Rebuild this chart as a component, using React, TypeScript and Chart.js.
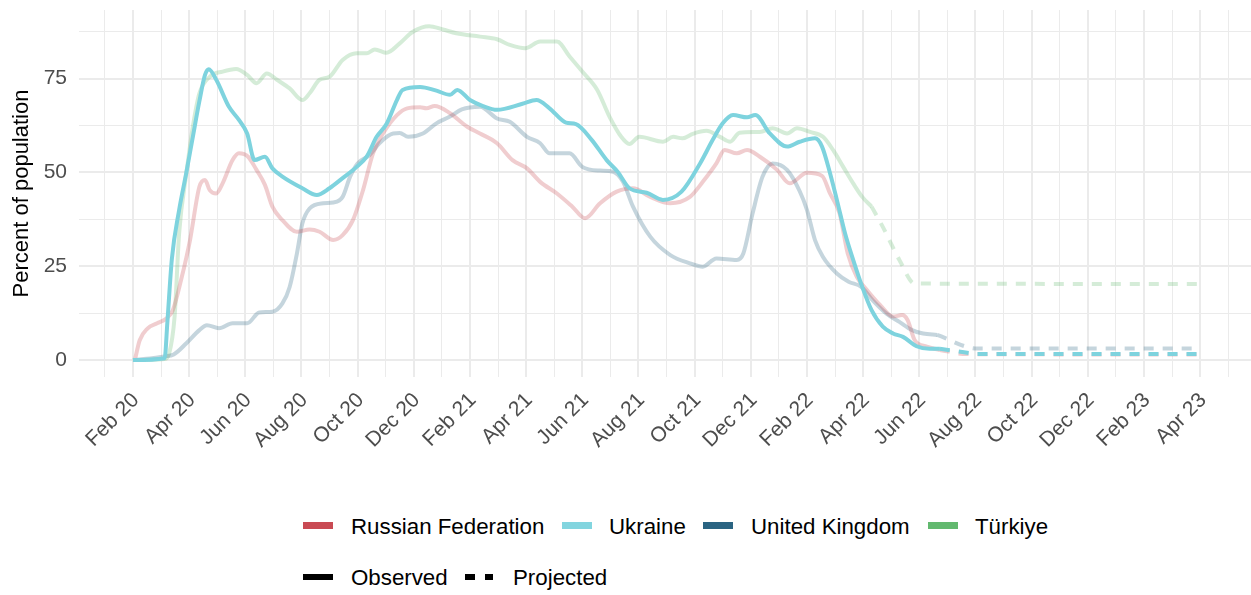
import React, { useEffect, useRef } from "react";
import { Chart, registerables } from "chart.js";

Chart.register(...registerables);

const FONT = '"Liberation Sans", Arial, Helvetica, sans-serif';

// ---------- data ----------
const xTickLabels = [
  "Feb 20", "Apr 20", "Jun 20", "Aug 20", "Oct 20", "Dec 20",
  "Feb 21", "Apr 21", "Jun 21", "Aug 21", "Oct 21", "Dec 21",
  "Feb 22", "Apr 22", "Jun 22", "Aug 22", "Oct 22", "Dec 22",
  "Feb 23", "Apr 23",
];
const yTickValues = [0, 25, 50, 75];

const countries = ["Russian Federation", "Ukraine", "United Kingdom", "Türkiye"];

const russiaObserved: [string, number][] = [
  ["2020-02-03", 0], ["2020-02-08", 5.3], ["2020-02-16", 8.4], ["2020-02-26", 9.8],
  ["2020-03-07", 11.1], ["2020-03-14", 13.3], ["2020-03-24", 22.2], ["2020-04-02", 32],
  ["2020-04-12", 46.2], ["2020-04-18", 48], ["2020-04-23", 45.3], ["2020-04-30", 44.4],
  ["2020-05-07", 47.1], ["2020-05-18", 53.3], ["2020-05-25", 55.1], ["2020-06-04", 54.2],
  ["2020-06-13", 50.7], ["2020-06-22", 46.7], ["2020-06-30", 40.9], ["2020-07-11", 37.3],
  ["2020-07-27", 34.2], ["2020-08-10", 34.8], ["2020-08-21", 34.2], ["2020-09-05", 32],
  ["2020-09-15", 33.3], ["2020-09-26", 37.3], ["2020-10-07", 45.3], ["2020-10-18", 55.1],
  ["2020-10-29", 60.4], ["2020-11-13", 65.3], ["2020-11-24", 67.1], ["2020-12-08", 67.4],
  ["2020-12-15", 67.1], ["2020-12-24", 67.7], ["2021-01-10", 65.8], ["2021-01-29", 62.2],
  ["2021-02-11", 60.4], ["2021-02-28", 57.8], ["2021-03-17", 53.3], ["2021-04-02", 51.1],
  ["2021-04-16", 47.5], ["2021-05-04", 44.4], ["2021-05-21", 40.9], ["2021-06-04", 37.8],
  ["2021-06-20", 41.8], ["2021-07-08", 44.9], ["2021-07-26", 45.8], ["2021-08-14", 43.5],
  ["2021-09-05", 41.8], ["2021-09-26", 43.5], ["2021-10-10", 47.5], ["2021-10-25", 52.4],
  ["2021-11-03", 56], ["2021-11-16", 55.1], ["2021-11-27", 56], ["2021-12-11", 54.2],
  ["2021-12-30", 50.7], ["2022-01-13", 47.1], ["2022-02-01", 49.9], ["2022-02-16", 49.1],
  ["2022-02-24", 44.4], ["2022-03-06", 39.1], ["2022-03-15", 28.4], ["2022-03-25", 22.2],
  ["2022-04-05", 18.7], ["2022-04-19", 14.7], ["2022-05-03", 11.6], ["2022-05-13", 12],
  ["2022-05-19", 10.7], ["2022-05-27", 5.3], ["2022-06-09", 3.6], ["2022-06-23", 2.7],
];
const russiaProjected: [string, number][] = [
  ["2022-06-23", 2.7], ["2022-07-22", 1.6], ["2023-04-01", 1.5],
];

const ukraineObserved: [string, number][] = [
  ["2020-02-01", 0], ["2020-03-05", 0.5], ["2020-03-08", 10], ["2020-03-13", 27],
  ["2020-03-21", 40], ["2020-03-29", 50], ["2020-04-05", 59.5], ["2020-04-12", 69],
  ["2020-04-18", 76], ["2020-04-22", 77.5], ["2020-04-30", 74.7], ["2020-05-14", 67.5],
  ["2020-05-25", 64], ["2020-06-03", 60.4], ["2020-06-11", 53.3], ["2020-06-22", 54.2],
  ["2020-06-30", 51.1], ["2020-07-11", 48.9], ["2020-08-02", 45.8], ["2020-08-18", 44],
  ["2020-09-01", 45.8], ["2020-09-15", 48.5], ["2020-09-30", 51.5], ["2020-10-11", 54.2],
  ["2020-10-22", 59.5], ["2020-11-02", 63], ["2020-11-13", 69.3], ["2020-11-19", 72],
  ["2020-12-08", 72.8], ["2020-12-26", 71.8], ["2021-01-10", 70.7], ["2021-01-18", 72],
  ["2021-02-01", 69.3], ["2021-02-14", 67.7], ["2021-02-28", 66.7], ["2021-03-28", 68.3],
  ["2021-04-12", 69.3], ["2021-04-26", 67.1], ["2021-05-14", 63.3], ["2021-05-25", 62.9],
  ["2021-06-11", 58.7], ["2021-06-27", 53.3], ["2021-07-09", 50.2], ["2021-07-22", 45.8],
  ["2021-08-10", 44.6], ["2021-08-28", 42.7], ["2021-09-17", 44.9], ["2021-10-07", 52.4],
  ["2021-10-21", 58.7], ["2021-11-01", 63.1], ["2021-11-12", 65.3], ["2021-11-27", 64.7],
  ["2021-12-06", 65.3], ["2021-12-22", 60.4], ["2022-01-10", 56.9], ["2022-01-24", 58.2],
  ["2022-02-09", 59.1], ["2022-02-16", 56.9], ["2022-02-24", 49.8], ["2022-03-03", 42.7],
  ["2022-03-12", 33.8], ["2022-03-21", 26.7], ["2022-03-31", 19.5], ["2022-04-10", 13.3],
  ["2022-04-22", 8.9], ["2022-05-03", 7.1], ["2022-05-14", 6.2], ["2022-05-29", 3.7],
  ["2022-06-12", 3.0], ["2022-06-23", 3.0],
];
const ukraineProjected: [string, number][] = [
  ["2022-06-23", 3.0], ["2022-07-25", 1.9], ["2022-08-01", 1.6], ["2023-04-01", 1.6],
];

const ukObserved: [string, number][] = [
  ["2020-02-01", 0], ["2020-03-05", 1], ["2020-03-15", 1.5], ["2020-03-29", 4.5],
  ["2020-04-12", 8], ["2020-04-20", 9.3], ["2020-05-03", 8.5], ["2020-05-18", 9.8],
  ["2020-06-03", 9.8], ["2020-06-16", 12.7], ["2020-06-30", 12.9], ["2020-07-11", 15.1],
  ["2020-07-19", 19.5], ["2020-07-27", 28.4], ["2020-08-02", 36.4], ["2020-08-10", 40.4],
  ["2020-08-25", 41.8], ["2020-09-05", 42], ["2020-09-15", 43.5], ["2020-09-23", 48.9],
  ["2020-10-01", 52.4], ["2020-10-14", 54.6], ["2020-10-25", 57.8], ["2020-11-09", 60.4],
  ["2020-11-16", 60.5], ["2020-11-25", 59.5], ["2020-12-11", 60.4], ["2020-12-26", 63.1],
  ["2021-01-10", 64.9], ["2021-01-23", 66.8], ["2021-02-11", 67.5], ["2021-02-28", 64.4],
  ["2021-03-14", 63.5], ["2021-04-02", 59.5], ["2021-04-16", 57.8], ["2021-04-26", 55.1],
  ["2021-05-18", 55.1], ["2021-06-01", 51.5], ["2021-06-20", 50.5], ["2021-07-04", 50.2],
  ["2021-07-15", 47.5], ["2021-07-26", 40.9], ["2021-08-14", 32.9], ["2021-09-05", 28],
  ["2021-09-26", 25.8], ["2021-10-10", 24.9], ["2021-10-25", 27.1], ["2021-11-16", 26.7],
  ["2021-11-23", 28.4], ["2021-12-03", 39.1], ["2021-12-14", 48.9], ["2021-12-25", 52.4],
  ["2022-01-10", 50.7], ["2022-01-24", 45], ["2022-02-01", 40], ["2022-02-09", 32],
  ["2022-02-17", 27.5], ["2022-03-03", 23.1], ["2022-03-16", 20.9], ["2022-03-30", 19.5],
  ["2022-04-11", 16], ["2022-04-26", 12.4], ["2022-05-10", 10.2], ["2022-05-24", 8],
  ["2022-06-05", 7.1], ["2022-06-20", 6.7],
];
const ukProjected: [string, number][] = [
  ["2022-06-20", 6.7], ["2022-08-03", 3.1], ["2023-04-01", 3.1],
];

const turkiyeObserved: [string, number][] = [
  ["2020-02-01", 0], ["2020-03-05", 0.3], ["2020-03-10", 1.8], ["2020-03-16", 11.6],
  ["2020-03-21", 33.8], ["2020-03-29", 49.8], ["2020-04-05", 62.2], ["2020-04-12", 71.1],
  ["2020-04-23", 75.5], ["2020-05-07", 76.9], ["2020-05-22", 77.6], ["2020-06-03", 76],
  ["2020-06-13", 73.8], ["2020-06-24", 76.4], ["2020-07-05", 74.7], ["2020-07-19", 72.4],
  ["2020-08-02", 69.3], ["2020-08-10", 71.1], ["2020-08-21", 74.7], ["2020-09-01", 75.5],
  ["2020-09-15", 80], ["2020-09-30", 81.8], ["2020-10-11", 81.8], ["2020-10-20", 82.8],
  ["2020-11-02", 81.9], ["2020-11-16", 84.4], ["2020-11-30", 87.5], ["2020-12-18", 89],
  ["2021-01-02", 88.1], ["2021-01-17", 87.1], ["2021-02-11", 86.2], ["2021-02-28", 85.5],
  ["2021-03-14", 84], ["2021-03-31", 83.1], ["2021-04-16", 84.9], ["2021-05-04", 84.9],
  ["2021-05-18", 80.9], ["2021-06-01", 76.9], ["2021-06-17", 72], ["2021-06-30", 64.9],
  ["2021-07-13", 59.5], ["2021-07-22", 57.6], ["2021-08-02", 59.5], ["2021-08-28", 58.2],
  ["2021-09-08", 59.5], ["2021-09-18", 59.1], ["2021-09-29", 60.3], ["2021-10-14", 61.1],
  ["2021-10-29", 59.5], ["2021-11-09", 58.2], ["2021-11-19", 60.6], ["2021-12-11", 60.8],
  ["2021-12-25", 61.8], ["2022-01-10", 60.4], ["2022-01-21", 61.8], ["2022-02-04", 60.8],
  ["2022-02-17", 59.5], ["2022-02-27", 56], ["2022-03-10", 51.5], ["2022-03-21", 47.1],
  ["2022-03-31", 43.5], ["2022-04-10", 40.9],
];
const turkiyeProjected: [string, number][] = [
  ["2022-04-10", 40.9], ["2022-04-22", 35.5], ["2022-05-10", 26.7], ["2022-05-27", 20.4],
  ["2023-04-01", 20.3],
];

// ---------- styling ----------
const legendColors = ["#c94a53", "#82d5df", "#2a6482", "#62b96f"];
const lineColors = [
  "rgba(201,74,83,0.28)",
  "rgb(126,211,222)",
  "rgba(42,100,130,0.27)",
  "rgba(98,185,111,0.27)",
];

const X_MIN = -0.92;
const X_MAX = 40.81;
const Y_MIN = -4.5;
const Y_MAX = 93.3;

function toMonth(d: string): number {
  const [y, mo, da] = d.split("-").map(Number);
  const dim = new Date(Date.UTC(y, mo, 0)).getUTCDate();
  return (y - 2020) * 12 + (mo - 1) + (da - 1) / dim;
}

function pts(arr: [string, number][]) {
  return arr.map(([d, v]) => ({ x: toMonth(d), y: v }));
}

function makeDataset(arr: [string, number][], idx: number, dashed: boolean) {
  return {
    label: countries[idx] + (dashed ? " (projected)" : ""),
    data: pts(arr),
    borderColor: lineColors[idx],
    backgroundColor: lineColors[idx],
    borderWidth: 4,
    borderDash: dashed ? [10, 9] : [],
    pointRadius: 0,
    cubicInterpolationMode: "monotone" as const,
    fill: false,
    order: idx === 1 ? 0 : 1,
  };
}

function ChartCanvas() {
  const ref = useRef<HTMLCanvasElement | null>(null);
  useEffect(() => {
    if (!ref.current) return;
    const observed = [russiaObserved, ukraineObserved, ukObserved, turkiyeObserved];
    const projected = [russiaProjected, ukraineProjected, ukProjected, turkiyeProjected];
    const datasets: any[] = [];
    [0, 2, 3, 1].forEach((i) => {
      datasets.push(makeDataset(observed[i], i, false));
      datasets.push(makeDataset(projected[i], i, true));
    });
    const xTicks: number[] = [];
    for (let v = 0; v <= 40; v++) xTicks.push(v);
    const yTicks: number[] = [];
    for (let v = 0; v <= 87.5; v += 12.5) yTicks.push(v);

    const chart = new Chart(ref.current, {
      type: "line",
      data: { datasets },
      options: {
        animation: false,
        responsive: false,
        maintainAspectRatio: false,
        layout: { padding: { top: 10, right: 0, bottom: 0, left: 0 } },
        plugins: { legend: { display: false }, tooltip: { enabled: false } },
        scales: {
          x: {
            type: "linear",
            min: X_MIN,
            max: X_MAX,
            afterBuildTicks: (axis: any) => {
              axis.ticks = xTicks.map((v) => ({ value: v }));
            },
            afterFit: (s: any) => {
              s.height = 93;
              s.paddingLeft = 0;
              s.paddingRight = 0;
            },
            ticks: {
              autoSkip: false,
              minRotation: 45,
              maxRotation: 45,
              padding: 11,
              labelOffset: 3,
              color: "#4d4d4d",
              font: { family: FONT, size: 21 },
              callback: (v: any) => {
                const n = Number(v);
                return n % 2 === 1 ? xTickLabels[(n - 1) / 2] : "";
              },
            },
            grid: {
              color: "#ebebeb",
              drawTicks: false,
              lineWidth: (ctx: any) => (ctx.tick && ctx.tick.value % 2 === 1 ? 2 : 1),
            },
            border: { display: false },
          },
          y: {
            type: "linear",
            min: Y_MIN,
            max: Y_MAX,
            afterBuildTicks: (axis: any) => {
              axis.ticks = yTicks.map((v) => ({ value: v }));
            },
            afterFit: (s: any) => {
              s.width = 79;
              s.paddingTop = 0;
              s.paddingBottom = 0;
            },
            ticks: {
              padding: 12,
              color: "#4d4d4d",
              font: { family: FONT, size: 21 },
              callback: (v: any) => {
                const n = Number(v);
                return yTickValues.includes(n) ? String(n) : "";
              },
            },
            title: {
              display: true,
              text: "Percent of population",
              color: "#000000",
              font: { family: FONT, size: 22 },
              padding: { top: 9, bottom: 0 },
            },
            grid: {
              color: "#ebebeb",
              drawTicks: false,
              lineWidth: (ctx: any) => (ctx.tick && ctx.tick.value % 25 === 0 ? 2 : 1),
            },
            border: { display: false },
          },
        },
      } as any,
    });
    return () => chart.destroy();
  }, []);
  return (
    <canvas
      ref={ref}
      width={1251}
      height={470}
      style={{ position: "absolute", left: 0, top: 0, width: 1251, height: 470 }}
    />
  );
}

const textStyle: React.CSSProperties = {
  position: "absolute",
  fontFamily: FONT,
  fontSize: 22.3,
  lineHeight: "22px",
  color: "#000",
  whiteSpace: "nowrap",
};

const legendRow1Swatch = [303, 562, 703, 928];
const legendRow1Text = [351, 609, 751, 975];

export default function App() {
  return (
    <div
      style={{
        position: "absolute",
        left: 0,
        top: 0,
        width: 1251,
        height: 595,
        background: "#ffffff",
        overflow: "hidden",
      }}
    >
      <ChartCanvas />
      {countries.map((c, i) => (
        <React.Fragment key={c}>
          <div
            style={{
              position: "absolute",
              left: legendRow1Swatch[i],
              top: 522,
              width: 30,
              height: 7,
              background: legendColors[i],
            }}
          />
          <div style={{ ...textStyle, left: legendRow1Text[i], top: 516 }}>{c}</div>
        </React.Fragment>
      ))}
      <div style={{ position: "absolute", left: 303, top: 574, width: 30, height: 6, background: "#000" }} />
      <div style={{ ...textStyle, left: 351, top: 567 }}>Observed</div>
      <div style={{ position: "absolute", left: 465, top: 574, width: 10, height: 6, background: "#000" }} />
      <div style={{ position: "absolute", left: 485, top: 574, width: 8, height: 6, background: "#000" }} />
      <div style={{ ...textStyle, left: 513, top: 567 }}>Projected</div>
    </div>
  );
}
